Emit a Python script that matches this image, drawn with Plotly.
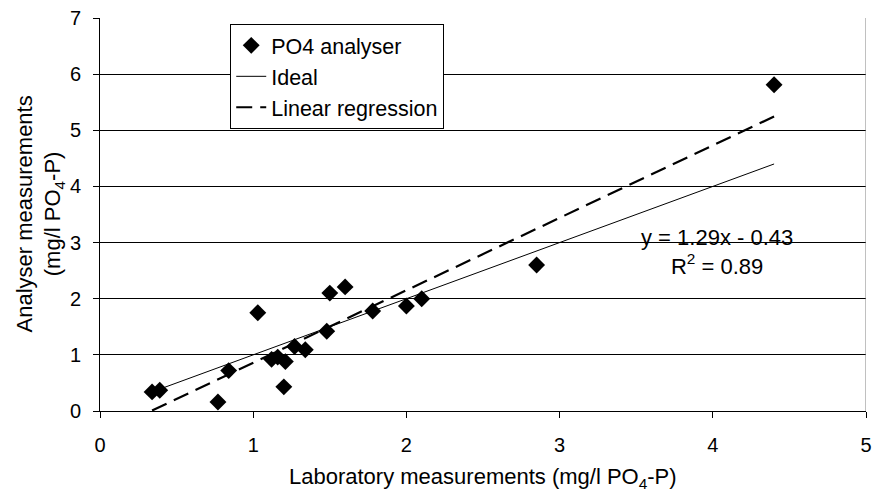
import plotly.graph_objects as go

# Data
lab_x = [0.34, 0.39, 0.77, 0.84, 1.03, 1.12, 1.16, 1.21, 1.20, 1.27, 1.34, 1.48, 1.50, 1.60, 1.78, 2.00, 2.10, 2.85, 4.40]
analyser_y = [0.34, 0.37, 0.16, 0.72, 1.75, 0.92, 0.96, 0.88, 0.43, 1.15, 1.09, 1.42, 2.10, 2.21, 1.78, 1.87, 2.00, 2.60, 5.81]
slope = 1.29
intercept = -0.43
r2 = 0.89
x_ticks = [0, 1, 2, 3, 4, 5]
y_ticks = [0, 1, 2, 3, 4, 5, 6, 7]

xmin, xmax = min(lab_x), max(lab_x)
FONT = "Liberation Sans, Arial, sans-serif"

fig = go.Figure()
fig.add_trace(go.Scatter(
    x=lab_x, y=analyser_y, mode="markers", name="PO4 analyser",
    marker=dict(symbol="diamond", size=13, color="black"),
))
fig.add_trace(go.Scatter(
    x=[xmin, xmax], y=[xmin, xmax], mode="lines", name="Ideal",
    line=dict(color="black", width=1),
))
fig.add_trace(go.Scatter(
    x=[xmin, xmax], y=[slope * xmin + intercept, slope * xmax + intercept],
    mode="lines", name="Linear regression",
    line=dict(color="black", width=2.2, dash="16px,8px"),
))

fig.update_layout(
    width=879, height=497,
    margin=dict(l=100, r=7, t=14, b=86),
    paper_bgcolor="white", plot_bgcolor="white",
    font=dict(family=FONT, size=20, color="black"),
    showlegend=True,
    legend=dict(
        x=0.17, y=0.985, xanchor="left", yanchor="top",
        bgcolor="white", bordercolor="black", borderwidth=1,
        font=dict(size=21.5), tracegroupgap=0,
    ),
    xaxis=dict(
        range=[0, 5], tickvals=x_ticks, showgrid=False, zeroline=False,
        showline=True, linecolor="black", linewidth=1,
        ticks="outside", ticklen=6, tickcolor="black",
        tickfont=dict(size=20), ticklabelstandoff=10,
    ),
    yaxis=dict(
        range=[0, 7], tickvals=y_ticks, showgrid=True, gridcolor="black", gridwidth=1,
        zeroline=False, showline=True, linecolor="black", linewidth=1,
        ticks="outside", ticklen=6, tickcolor="black",
        tickfont=dict(size=20), ticklabelstandoff=8,
    ),
    annotations=[
        dict(text="Laboratory measurements (mg/l PO<sub>4</sub>-P)",
             xref="paper", yref="paper", x=0.5, y=0, yshift=-67,
             xanchor="center", yanchor="middle", showarrow=False,
             font=dict(size=22)),
        dict(text="Analyser measurements<br>(mg/l PO<sub>4</sub>-P)",
             xref="paper", yref="paper", x=0, y=0.5, xshift=-61,
             xanchor="center", yanchor="middle", showarrow=False,
             textangle=-90, font=dict(size=22)),
        dict(text=f"y = {slope:.2f}x - {abs(intercept):.2f}<br>R<sup>2</sup> = {r2:.2f}",
             x=4.03, y=2.84, xref="x", yref="y", showarrow=False,
             xanchor="center", yanchor="middle", font=dict(size=22)),
    ],
    shapes=[
        dict(type="line", xref="x", yref="y", x0=5, x1=5, y0=0, y1=7,
             line=dict(color="#808080", width=1)),
    ],
)

fig.write_html("out.html", config={"displayModeBar": False},
               post_script="document.body.style.margin='0';")
